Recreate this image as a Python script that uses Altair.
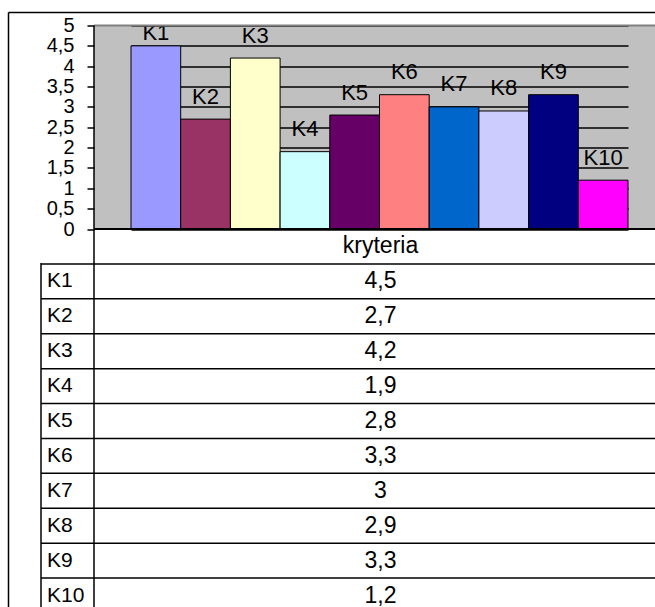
import altair as alt
import pandas as pd

# ---- data ----
categories = ["K1", "K2", "K3", "K4", "K5", "K6", "K7", "K8", "K9", "K10"]
values = [4.5, 2.7, 4.2, 1.9, 2.8, 3.3, 3.0, 2.9, 3.3, 1.2]
colors = ["#9999FF", "#993366", "#FFFFCC", "#CCFFFF", "#660066",
          "#FF8080", "#0066CC", "#CCCCFF", "#000080", "#FF00FF"]
series_name = "kryteria"
y_ticks = [0, 0.5, 1, 1.5, 2, 2.5, 3, 3.5, 4, 4.5, 5]

FONT = "Liberation Sans"
W = 561          # visible plot width (chart is cropped on the right)
FULL_W = 573     # full plot width
H = 203.5        # plot height
ROW_RANGE = [203.5, 587.5]

def fmt(v):
    return f"{v:g}".replace(".", ",")

df = pd.DataFrame({"cat": categories, "value": values})

rows = [series_name] + categories
table_df = pd.DataFrame({
    "row": rows,
    "name": [""] + categories,
    "val": [series_name] + [fmt(v) for v in values],
    "col": [series_name] * len(rows),
})
krows_df = table_df[table_df["row"] != series_name]

x_scale = alt.Scale(type="band", domain=categories, range=[37, 534], paddingInner=0, paddingOuter=0)
y_scale = alt.Scale(domain=[0, 5], nice=False, zero=True)
row_scale = alt.Scale(type="band", domain=rows, range=ROW_RANGE, paddingInner=0, paddingOuter=0)
col_scale = alt.Scale(type="band", domain=[series_name], range=[0, FULL_W], paddingInner=0, paddingOuter=0)

bars = alt.Chart(df).mark_bar(stroke="black", strokeWidth=1).encode(
    x=alt.X("cat:N", scale=x_scale, axis=None, sort=categories),
    y=alt.Y("value:Q", scale=y_scale, axis=alt.Axis(
        values=y_ticks, title=None, domain=False, format="~g",
        labelExpr="replace(datum.label, '.', ',')",
        labelFontSize=20, labelFont=FONT, labelColor="black",
        labelPadding=13, labelOverlap=False, labelFlush=False, labelBound=False,
        tickSize=7, tickColor="black", tickWidth=1.5,
        grid=True, gridColor="black", gridWidth=1.5,
    )),
    color=alt.Color("cat:N", scale=alt.Scale(domain=categories, range=colors), legend=None),
)

labels = alt.Chart(df).transform_calculate(
    ly="min(datum.value, 4.26)"
).mark_text(dy=-15.5, baseline="alphabetic", align="center", fontSize=22, font=FONT, color="black").encode(
    x=alt.X("cat:N", scale=x_scale, axis=None, sort=categories),
    y=alt.Y("ly:Q", scale=y_scale, axis=None),
    text="cat:N",
)

frame_df = pd.DataFrame({"k": [0]})
line = dict(color="black", strokeWidth=1.5)

zero_line = alt.Chart(frame_df).mark_rule(color="black", strokeWidth=2).encode(
    y=alt.value(H), x=alt.value(0), x2=alt.value(W + 20))
top_line = alt.Chart(frame_df).mark_rule(color="#808080", strokeWidth=2).encode(
    y=alt.value(0), x=alt.value(0), x2=alt.value(W + 20))
axis_line = alt.Chart(frame_df).mark_rule(**line).encode(
    x=alt.value(0), y=alt.value(0), y2=alt.value(600))
table_left = alt.Chart(frame_df).mark_rule(**line).encode(
    x=alt.value(-53), y=alt.value(237.5), y2=alt.value(600))
outer_left = alt.Chart(frame_df).mark_rule(**line).encode(
    x=alt.value(-85.5), y=alt.value(-13), y2=alt.value(600))
outer_top = alt.Chart(frame_df).mark_rule(**line).encode(
    y=alt.value(-13), x=alt.value(-85.5), x2=alt.value(W + 20))

row_lines = alt.Chart(krows_df).mark_rule(**line).encode(
    y=alt.Y("row:N", scale=row_scale, axis=None, bandPosition=0),
    x=alt.value(-53), x2=alt.value(W + 20),
)

value_text = alt.Chart(table_df).mark_text(fontSize=23, font=FONT, baseline="middle", align="center", color="black").encode(
    x=alt.X("col:N", scale=col_scale, axis=None),
    y=alt.Y("row:N", scale=row_scale, axis=None),
    text="val:N",
)

name_text = alt.Chart(krows_df).mark_text(fontSize=21, font=FONT, baseline="middle", align="left", color="black").encode(
    x=alt.value(-47),
    y=alt.Y("row:N", scale=row_scale, axis=None),
    text="name:N",
)

chart = alt.layer(
    bars, labels, zero_line, top_line, axis_line, table_left, outer_left, outer_top,
    row_lines, value_text, name_text
).resolve_scale(
    x="independent", y="independent", color="independent"
).properties(
    width=W, height=H,
    autosize=alt.AutoSizeParams(type="none"),
    padding={"left": 94, "top": 25.5, "right": 0, "bottom": 378},
    background="white",
).configure(
    font=FONT
).configure_view(
    fill="#C0C0C0", stroke=None
)

chart.save("out.html", embed_options={"renderer": "svg", "actions": False})
